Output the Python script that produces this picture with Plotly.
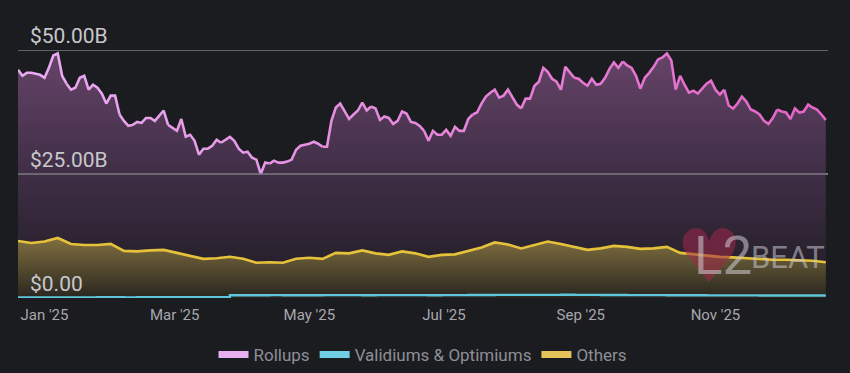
import plotly.graph_objects as go
import pandas as pd

# ---------------- data (values in billions USD) ----------------
series_start = "2024-12-20"

# Rollups, one reading every 2 days
rollups_b = [
    46.0, 44.8, 45.4, 45.4, 45.2, 45.0, 44.4, 46.4, 48.9, 49.3,
    44.8, 43.2, 42.0, 42.4, 44.4, 44.8, 42.0, 43.0, 42.4, 41.2,
    39.2, 40.8, 40.8, 37.0, 35.7, 34.7, 34.9, 35.5, 35.3, 36.3,
    36.3, 35.7, 36.8, 37.8, 34.9, 34.3, 33.7, 36.1, 32.5, 32.9,
    31.7, 28.9, 30.1, 30.1, 30.7, 31.9, 31.3, 31.9, 32.5, 31.7,
    30.1, 29.3, 29.5, 28.3, 27.9, 25.0, 27.3, 27.1, 27.7, 27.3,
    27.3, 27.5, 27.9, 29.9, 30.7, 30.9, 31.1, 31.5, 31.1, 30.5,
    30.5, 35.7, 38.4, 39.2, 37.6, 36.1, 37.0, 37.8, 39.4, 37.8,
    38.6, 38.2, 35.9, 36.6, 36.3, 35.1, 35.7, 37.6, 37.2, 35.5,
    35.3, 34.7, 33.7, 31.7, 33.7, 32.9, 32.9, 33.9, 32.7, 34.5,
    33.7, 33.7, 36.1, 37.0, 37.4, 39.2, 40.6, 41.4, 42.0, 40.4,
    40.8, 42.0, 40.4, 39.0, 38.2, 40.2, 40.2, 42.8, 43.6, 46.4,
    45.6, 44.2, 43.6, 42.0, 46.6, 45.6, 44.4, 44.2, 43.4, 42.8,
    44.2, 43.0, 43.2, 44.4, 46.2, 47.5, 46.4, 47.7, 46.9, 46.4,
    44.8, 42.2, 44.4, 45.4, 46.6, 48.1, 48.5, 49.3, 47.9, 42.0,
    44.8, 43.0, 41.4, 41.8, 41.2, 42.2, 43.2, 43.8, 42.0, 41.0,
    42.0, 38.8, 38.2, 39.2, 40.6, 39.6, 38.0, 37.6, 37.0, 35.7,
    35.1, 36.3, 38.0, 37.6, 37.4, 36.1, 38.2, 37.4, 37.6, 39.0,
    38.4, 38.0, 37.0, 35.9,
]

# Others, one reading every 6 days
others_b = [
    11.5, 11.1, 11.4, 12.1, 10.9, 10.7, 10.7, 10.9, 9.5, 9.4,
    9.6, 9.7, 9.1, 8.5, 7.9, 8.0, 8.3, 7.9, 7.1, 7.2,
    7.1, 7.9, 8.1, 7.9, 9.1, 9.0, 9.6, 9.0, 8.7, 9.4,
    9.0, 8.3, 8.7, 8.8, 9.5, 10.2, 11.2, 10.8, 10.0, 10.7,
    11.4, 10.9, 10.3, 9.7, 10.0, 10.5, 10.3, 9.9, 10.0, 10.3,
    9.1, 8.8, 8.6, 8.3, 8.2, 8.0, 7.8, 7.7, 7.7, 7.6,
    7.5, 7.2,
]

# Validiums & Optimiums, one reading every 6 days
validiums_b = [
    0.12, 0.12, 0.13, 0.13, 0.12, 0.13, 0.14, 0.14, 0.13, 0.14,
    0.14, 0.15, 0.15, 0.15, 0.16, 0.16, 0.55, 0.56, 0.55, 0.57,
    0.56, 0.55, 0.56, 0.57, 0.58, 0.57, 0.56, 0.57, 0.58, 0.58,
    0.57, 0.56, 0.57, 0.58, 0.59, 0.60, 0.62, 0.63, 0.62, 0.63,
    0.64, 0.65, 0.63, 0.62, 0.60, 0.59, 0.58, 0.58, 0.57, 0.56,
    0.55, 0.54, 0.53, 0.53, 0.52, 0.52, 0.51, 0.50, 0.50, 0.50,
    0.49, 0.49,
]

series_names = ["Rollups", "Validiums & Optimiums", "Others"]
y_tick_vals = [0, 25, 50]
y_tick_text = ["$0.00", "$25.00B", "$50.00B"]
x_tick_vals = ["2025-01-01", "2025-03-01", "2025-05-01",
               "2025-07-01", "2025-09-01", "2025-11-01"]
x_tick_text = ["Jan '25", "Mar '25", "May '25", "Jul '25", "Sep '25", "Nov '25"]
x_range = ["2024-12-20", "2025-12-22"]

rollup_dates = pd.date_range(series_start, periods=len(rollups_b), freq="2D")
others_dates = pd.date_range(series_start, periods=len(others_b), freq="6D")
valid_dates = pd.date_range(series_start, periods=len(validiums_b), freq="6D")

# ---------------- style ----------------
BG = "#1b1c20"
GRID = "#7b7a80"
ROLL_L = (232, 172, 242)
ROLL_R = (228, 100, 198)
OTHERS = "#e6c23a"
VALID = "#5ec6dc"
FONT = "Roboto"


def mix(c1, c2, t):
    return "rgb(%d,%d,%d)" % tuple(round(a + (b - a) * t) for a, b in zip(c1, c2))


fig = go.Figure()

# Rollups area (gradient fill)
fig.add_trace(go.Scatter(
    x=rollup_dates, y=rollups_b, mode="none", fill="tozeroy",
    fillgradient=dict(type="vertical", start=0, stop=50,
                      colorscale=[[0, "#1e1b22"], [0.5, "#3f2e46"], [1, "#674469"]]),
    showlegend=False, hoverinfo="skip",
))

# Rollups line with a left-to-right colour gradient (segments)
n = len(rollups_b)
n_seg = 16
bounds = [round(i * (n - 1) / n_seg) for i in range(n_seg + 1)]
for s in range(n_seg):
    i0, i1 = bounds[s], bounds[s + 1]
    fig.add_trace(go.Scatter(
        x=rollup_dates[i0:i1 + 1], y=rollups_b[i0:i1 + 1], mode="lines",
        line=dict(color=mix(ROLL_L, ROLL_R, (s + 0.5) / n_seg), width=2.6),
        showlegend=False, hoverinfo="skip",
    ))

# Others area
fig.add_trace(go.Scatter(
    x=others_dates, y=others_b, mode="lines", fill="tozeroy",
    line=dict(color=OTHERS, width=2.6),
    fillgradient=dict(type="vertical", start=0, stop=12,
                      colorscale=[[0, "#29261f"], [1, "#7f6e3f"]]),
    showlegend=False, hoverinfo="skip",
))

# Validiums & Optimiums
fig.add_trace(go.Scatter(
    x=valid_dates, y=validiums_b, mode="lines",
    line=dict(color=VALID, width=2.4, shape="hv"),
    showlegend=False, hoverinfo="skip",
))

# Legend entries
for name, col in zip(series_names, ["#e7aef0", "#6fcde4", "#e3c35a"]):
    fig.add_trace(go.Scatter(
        x=[None], y=[None], mode="lines", name=name,
        line=dict(color=col, width=7),
    ))

# gridlines drawn over the fills
for v in y_tick_vals[1:]:
    fig.add_hline(y=v, line=dict(color=GRID, width=1.5), layer="above")

# y tick labels, sitting above their gridlines at the left
for v, t in zip(y_tick_vals, y_tick_text):
    fig.add_annotation(xref="paper", yref="y", x=0, y=v, text=t,
                       xanchor="left", yanchor="bottom", xshift=10, yshift=0,
                       showarrow=False,
                       font=dict(family=FONT, size=21, color="#c8c8cc"))

# L2BEAT watermark
fig.add_annotation(xref="paper", yref="paper", x=0.853, y=0.17, text="♥",
                   xanchor="center", yanchor="middle",
                   showarrow=False, font=dict(family="DejaVu Sans", size=74,
                                              color="rgba(160,40,72,0.55)"))
fig.add_annotation(xref="paper", yref="paper", x=0.832, y=0.17, text="L2",
                   xanchor="left", yanchor="middle",
                   showarrow=False, font=dict(family=FONT, size=53,
                                              color="rgba(205,205,210,0.55)"))
fig.add_annotation(xref="paper", yref="paper", x=0.902, y=0.165, text="BEAT",
                   xanchor="left", yanchor="middle",
                   showarrow=False, font=dict(family=FONT, size=31,
                                              color="rgba(205,205,210,0.55)"))

fig.update_layout(
    width=850, height=373,
    paper_bgcolor=BG, plot_bgcolor=BG,
    margin=dict(l=18, r=22, t=50, b=75, autoexpand=False),
    font=dict(family=FONT),
    xaxis=dict(
        type="date", range=x_range, tickvals=x_tick_vals, ticktext=x_tick_text,
        showgrid=False, zeroline=False, showline=False, ticks="",
        tickfont=dict(family=FONT, size=15, color="#a7a7ae"),
        ticklabelstandoff=6, fixedrange=True, automargin=False,
    ),
    yaxis=dict(
        range=[0, 50], tickvals=y_tick_vals, showticklabels=False,
        showgrid=True, gridcolor=GRID, gridwidth=1.5,
        zeroline=False, showline=False, ticks="", fixedrange=True,
        automargin=False,
    ),
    legend=dict(
        orientation="h", x=0.5, xanchor="center", y=-0.23, yanchor="middle",
        font=dict(family=FONT, size=17, color="#8e8e97"),
        bgcolor="rgba(0,0,0,0)", itemwidth=30,
    ),
    showlegend=True,
)

fig.write_html(
    "out.html",
    config={"displayModeBar": False},
    post_script="document.body.style.margin='0';document.body.style.overflow='hidden';",
)
